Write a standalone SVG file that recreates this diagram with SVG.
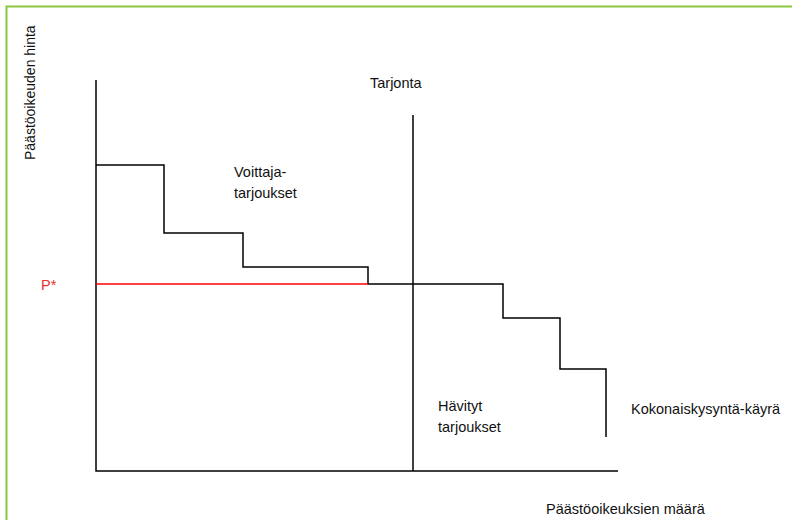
<svg xmlns="http://www.w3.org/2000/svg" width="792" height="520" viewBox="0 0 792 520">
<style>
text{font-family:"Liberation Sans","DejaVu Sans",sans-serif;font-size:14.5px;fill:#111}
.ln{fill:none;stroke:#000;stroke-width:1.5}
.red{fill:none;stroke:#f00;stroke-width:1.5}
</style>
<rect width="792" height="520" fill="#fff"/>
<rect x="6.5" y="6.5" width="800" height="530" fill="none" stroke="#8cc63f" stroke-width="2"/>
<g id="axes">
<polyline class="ln" points="96,80 96,471 618,471"/>
</g>
<g id="connectors">
<polyline id="demand" class="ln" points="96,165 164,165 164,233 243,233 243,267 368,267 368,284 503,284 503,318 560,318 560,369 606,369 606,437"/>
<line id="pstar" class="red" x1="96" y1="284" x2="368" y2="284"/>
<line id="supply" class="ln" x1="413" y1="115" x2="413" y2="471"/>
</g>
<g id="labels">
<text transform="translate(35,160) rotate(-90)" style="font-size:14px">Päästöoikeuden hinta</text>
<text x="370" y="88">Tarjonta</text>
<text x="234" y="177">Voittaja-</text>
<text x="234" y="198">tarjoukset</text>
<text x="41" y="290" style="fill:#e83030">P*</text>
<text x="438" y="411">Hävityt</text>
<text x="438" y="432">tarjoukset</text>
<text x="631" y="414">Kokonaiskysyntä-käyrä</text>
<text x="546" y="514">Päästöoikeuksien määrä</text>
</g>
</svg>
